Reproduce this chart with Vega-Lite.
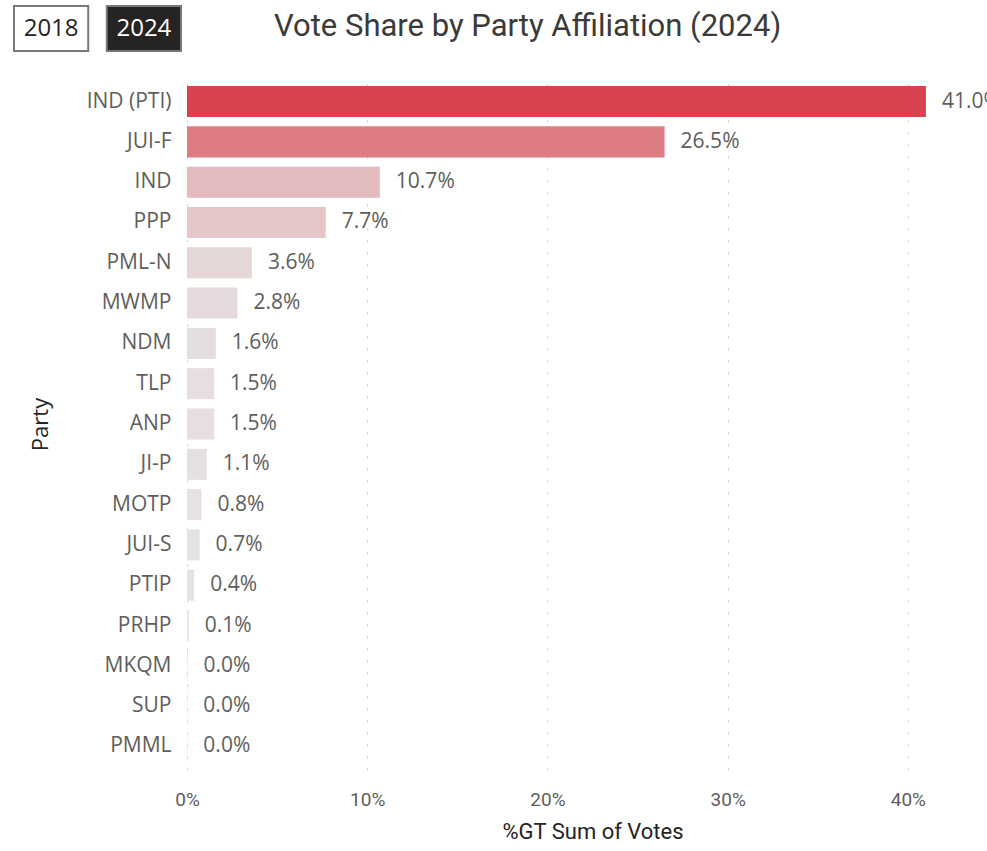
{
  "$schema": "https://vega.github.io/schema/vega-lite/v6.json",
  "background": "#ffffff",
  "padding": {"left": 13, "top": 5, "right": 0, "bottom": 0},
  "spacing": 26,
  "config": {"view": {"stroke": null}},
  "vconcat": [
    {
      "width": 600,
      "height": 45,
      "data": {"values": [{"year": "2018", "selected": false}, {"year": "2024", "selected": true}]},
      "title": {"text": "Vote Share by Party Affiliation (2024)", "orient": "top", "anchor": "start", "frame": "group", "offset": -38, "dx": 87, "font": "Roboto", "fontSize": 31, "fontWeight": "normal", "color": "#3B3A39"},
      "encoding": {"x": {"field": "year", "type": "nominal", "axis": null, "scale": {"paddingInner": 0.2, "paddingOuter": 0, "range": [-173, -6]}}},
      "layer": [
        {"mark": {"type": "rect", "strokeWidth": 2, "stroke": "#7A7876"},
         "encoding": {"fill": {"condition": {"test": "datum.selected", "value": "#252423"}, "value": "#ffffff"}}},
        {"mark": {"type": "text", "font": "Open Sans", "fontSize": 24},
         "encoding": {"text": {"field": "year"}, "color": {"condition": {"test": "datum.selected", "value": "#ffffff"}, "value": "#252423"}}}
      ]
    },
    {
      "width": 811,
      "height": 692,
      "data": {"values": [
        {"party": "IND (PTI)", "share": 0.410},
        {"party": "JUI-F", "share": 0.265},
        {"party": "IND", "share": 0.107},
        {"party": "PPP", "share": 0.077},
        {"party": "PML-N", "share": 0.036},
        {"party": "MWMP", "share": 0.028},
        {"party": "NDM", "share": 0.016},
        {"party": "TLP", "share": 0.015},
        {"party": "ANP", "share": 0.015},
        {"party": "JI-P", "share": 0.011},
        {"party": "MOTP", "share": 0.008},
        {"party": "JUI-S", "share": 0.007},
        {"party": "PTIP", "share": 0.004},
        {"party": "PRHP", "share": 0.001},
        {"party": "MKQM", "share": 0.0003},
        {"party": "SUP", "share": 0.0002},
        {"party": "PMML", "share": 0.0002}
      ]},
      "encoding": {
        "y": {"field": "party", "type": "nominal", "sort": null,
              "scale": {"paddingInner": 0.23, "paddingOuter": 0.2},
              "axis": {"title": ["", "Party"], "titleLineHeight": 15, "ticks": false, "domain": false, "labelPadding": 16,
                       "labelFont": "Open Sans", "labelFontSize": 21, "labelColor": "#605E5C",
                       "titleFont": "Open Sans", "titleFontSize": 22, "titleFontWeight": "normal", "titleColor": "#252423", "titlePadding": 34}},
        "x": {"field": "share", "type": "quantitative",
              "scale": {"domain": [0, 0.45], "nice": false},
              "axis": {"title": "%GT Sum of Votes", "format": ".0%", "values": [0, 0.1, 0.2, 0.3, 0.4], "labelFlush": false,
                       "ticks": false, "domain": false, "grid": true, "gridDash": [2, 10], "gridColor": "#C8C6C4",
                       "labelPadding": 20, "labelFont": "Roboto", "labelFontSize": 19, "labelColor": "#605E5C",
                       "titleFont": "Roboto", "titleFontSize": 22, "titleFontWeight": "normal", "titleColor": "#252423", "titlePadding": 12}}
      },
      "layer": [
        {"mark": {"type": "bar"},
         "encoding": {"color": {"field": "share", "type": "quantitative", "legend": null,
                                "scale": {"domain": [0, 0.41], "range": ["#E6E4E5", "#D9434F"], "interpolate": "rgb"}}}},
        {"mark": {"type": "text", "align": "left", "baseline": "middle", "dx": 16, "font": "Open Sans", "fontSize": 21, "color": "#605E5C"},
         "encoding": {"text": {"field": "share", "type": "quantitative", "format": ".1%"}}}
      ]
    }
  ]
}
